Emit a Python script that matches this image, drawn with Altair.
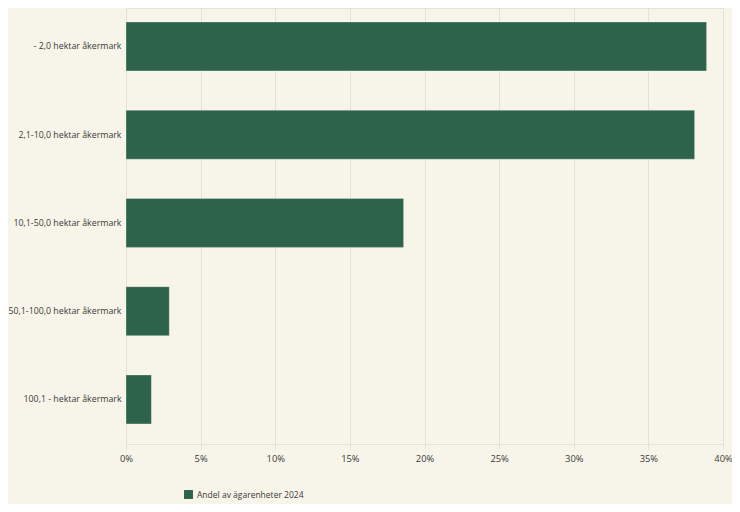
import altair as alt
import pandas as pd

categories = [
    "- 2,0 hektar åkermark",
    "2,1-10,0 hektar åkermark",
    "10,1-50,0 hektar åkermark",
    "50,1-100,0 hektar åkermark",
    "100,1 - hektar åkermark",
]
shares = [38.9, 38.1, 18.6, 2.9, 1.7]
series_name = "Andel av  ägarenheter 2024"

df = pd.DataFrame({"kategori": categories, "andel": [v / 100 for v in shares], "serie": series_name})

BG = "#f7f5ea"
GRID = "#e4e2d7"
BAR = "#2e634b"
TXT = "#3a3a3a"
FONT = "Open Sans"

chart = (
    alt.Chart(df)
    .mark_bar(stroke="#ffffff", strokeWidth=0.6, strokeOpacity=0.5)
    .encode(
        y=alt.Y(
            "kategori:N",
            sort=categories,
            title=None,
            scale=alt.Scale(paddingInner=0.445, paddingOuter=0.193, align=0.41),
            axis=alt.Axis(ticks=False, domain=False, labelPadding=5, labelFontSize=8.8,
                          labelColor=TXT, labelFont=FONT, labelLimit=300),
        ),
        x=alt.X(
            "andel:Q",
            title=None,
            scale=alt.Scale(domain=[0, 0.4], nice=False),
            axis=alt.Axis(format=".0%", values=[0, 0.05, 0.1, 0.15, 0.2, 0.25, 0.3, 0.35, 0.4],
                          grid=True, gridColor=GRID, domainColor=GRID, tickColor=GRID,
                          tickSize=5, labelFontSize=9.4, labelColor=TXT, labelFont=FONT,
                          labelPadding=5, labelFlush=False),
        ),
        color=alt.Color(
            "serie:N",
            scale=alt.Scale(domain=[series_name], range=[BAR]),
            legend=alt.Legend(orient="none", legendX=58, legendY=482, title=None,
                              symbolType="square", symbolSize=80, symbolStrokeWidth=0,
                              labelFontSize=8.5, labelColor=TXT, labelFont=FONT, labelOffset=4),
        ),
    )
    .properties(
        width=597,
        height=436,
        background=BG,
        autosize=alt.AutoSizeParams(type="none"),
        padding={"left": 118, "top": 0, "right": 9, "bottom": 60},
    )
    .configure_view(stroke=GRID, strokeWidth=1)
)

chart.save("out.html", embed_options={"renderer": "svg", "actions": False})
